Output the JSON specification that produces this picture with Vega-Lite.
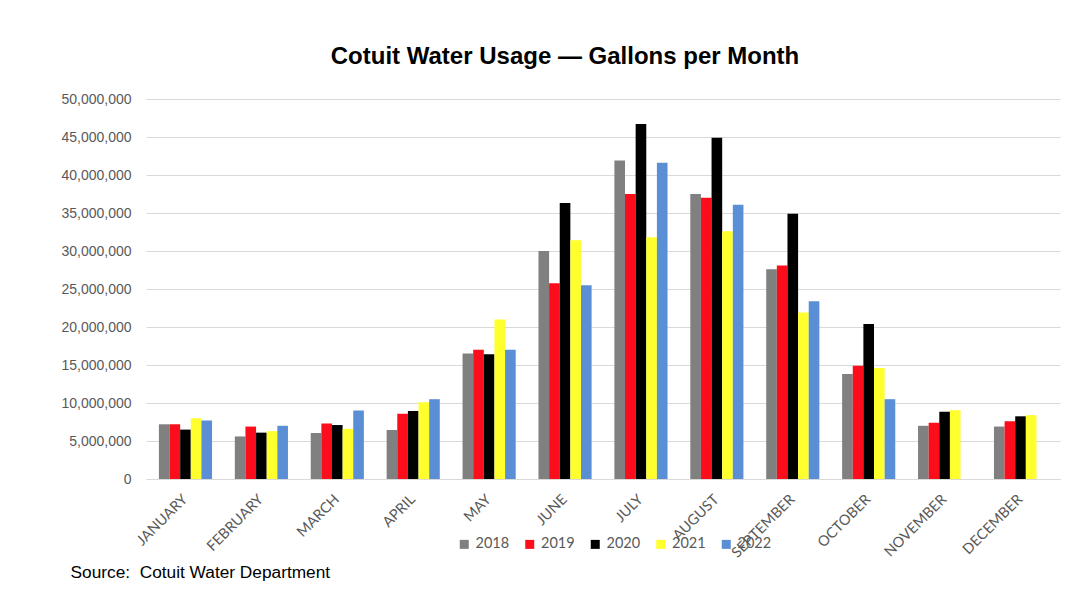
{
  "$schema": "https://vega.github.io/schema/vega-lite/v6.json",
  "autosize": {"type": "none"},
  "width": 914,
  "height": 380,
  "padding": {"left": 146, "top": 99, "right": 32, "bottom": 114},
  "background": "white",
  "title": {
    "text": "Cotuit Water Usage — Gallons per Month",
    "font": "Liberation Sans",
    "fontSize": 24,
    "fontWeight": "bold",
    "color": "#000000",
    "anchor": "middle",
    "baseline": "alphabetic",
    "offset": 4,
    "dx": -38
  },
  "data": {
    "values": [
      {"month": "JANUARY", "year": "2018", "gallons": 7200000},
      {"month": "JANUARY", "year": "2019", "gallons": 7200000},
      {"month": "JANUARY", "year": "2020", "gallons": 6500000},
      {"month": "JANUARY", "year": "2021", "gallons": 8000000},
      {"month": "JANUARY", "year": "2022", "gallons": 7700000},
      {"month": "FEBRUARY", "year": "2018", "gallons": 5600000},
      {"month": "FEBRUARY", "year": "2019", "gallons": 6900000},
      {"month": "FEBRUARY", "year": "2020", "gallons": 6100000},
      {"month": "FEBRUARY", "year": "2021", "gallons": 6300000},
      {"month": "FEBRUARY", "year": "2022", "gallons": 7000000},
      {"month": "MARCH", "year": "2018", "gallons": 6050000},
      {"month": "MARCH", "year": "2019", "gallons": 7300000},
      {"month": "MARCH", "year": "2020", "gallons": 7100000},
      {"month": "MARCH", "year": "2021", "gallons": 6600000},
      {"month": "MARCH", "year": "2022", "gallons": 9000000},
      {"month": "APRIL", "year": "2018", "gallons": 6450000},
      {"month": "APRIL", "year": "2019", "gallons": 8600000},
      {"month": "APRIL", "year": "2020", "gallons": 8950000},
      {"month": "APRIL", "year": "2021", "gallons": 10100000},
      {"month": "APRIL", "year": "2022", "gallons": 10500000},
      {"month": "MAY", "year": "2018", "gallons": 16500000},
      {"month": "MAY", "year": "2019", "gallons": 17000000},
      {"month": "MAY", "year": "2020", "gallons": 16400000},
      {"month": "MAY", "year": "2021", "gallons": 21000000},
      {"month": "MAY", "year": "2022", "gallons": 17000000},
      {"month": "JUNE", "year": "2018", "gallons": 30000000},
      {"month": "JUNE", "year": "2019", "gallons": 25750000},
      {"month": "JUNE", "year": "2020", "gallons": 36300000},
      {"month": "JUNE", "year": "2021", "gallons": 31400000},
      {"month": "JUNE", "year": "2022", "gallons": 25500000},
      {"month": "JULY", "year": "2018", "gallons": 41900000},
      {"month": "JULY", "year": "2019", "gallons": 37500000},
      {"month": "JULY", "year": "2020", "gallons": 46700000},
      {"month": "JULY", "year": "2021", "gallons": 31800000},
      {"month": "JULY", "year": "2022", "gallons": 41600000},
      {"month": "AUGUST", "year": "2018", "gallons": 37500000},
      {"month": "AUGUST", "year": "2019", "gallons": 37000000},
      {"month": "AUGUST", "year": "2020", "gallons": 44900000},
      {"month": "AUGUST", "year": "2021", "gallons": 32600000},
      {"month": "AUGUST", "year": "2022", "gallons": 36100000},
      {"month": "SEPTEMBER", "year": "2018", "gallons": 27600000},
      {"month": "SEPTEMBER", "year": "2019", "gallons": 28100000},
      {"month": "SEPTEMBER", "year": "2020", "gallons": 34900000},
      {"month": "SEPTEMBER", "year": "2021", "gallons": 21900000},
      {"month": "SEPTEMBER", "year": "2022", "gallons": 23400000},
      {"month": "OCTOBER", "year": "2018", "gallons": 13800000},
      {"month": "OCTOBER", "year": "2019", "gallons": 14900000},
      {"month": "OCTOBER", "year": "2020", "gallons": 20400000},
      {"month": "OCTOBER", "year": "2021", "gallons": 14600000},
      {"month": "OCTOBER", "year": "2022", "gallons": 10500000},
      {"month": "NOVEMBER", "year": "2018", "gallons": 7000000},
      {"month": "NOVEMBER", "year": "2019", "gallons": 7400000},
      {"month": "NOVEMBER", "year": "2020", "gallons": 8850000},
      {"month": "NOVEMBER", "year": "2021", "gallons": 9050000},
      {"month": "DECEMBER", "year": "2018", "gallons": 6900000},
      {"month": "DECEMBER", "year": "2019", "gallons": 7600000},
      {"month": "DECEMBER", "year": "2020", "gallons": 8250000},
      {"month": "DECEMBER", "year": "2021", "gallons": 8400000}
    ]
  },
  "mark": {"type": "bar"},
  "encoding": {
    "x": {
      "field": "month",
      "type": "nominal",
      "sort": ["JANUARY", "FEBRUARY", "MARCH", "APRIL", "MAY", "JUNE", "JULY", "AUGUST", "SEPTEMBER", "OCTOBER", "NOVEMBER", "DECEMBER"],
      "scale": {"paddingInner": 0.3, "paddingOuter": 0.17},
      "axis": {
        "title": "Source:\u00a0 Cotuit Water Department",
        "titleFont": "Liberation Sans",
        "titleFontSize": 17.3,
        "titleFontWeight": "normal",
        "titleColor": "#000000",
        "titleX": -76,
        "titleY": 98,
        "titleAlign": "left",
        "titleBaseline": "alphabetic",
        "titleAngle": 0,
        "labelAngle": -45,
        "labelAlign": "right",
        "labelBaseline": "middle",
        "labelFont": "Lato",
        "labelFontSize": 14.5,
        "labelColor": "#595959",
        "labelPadding": 18,
        "labelDx": 3,
        "ticks": false,
        "tickSize": 0,
        "domainColor": "#d9d9d9",
        "domainWidth": 1,
        "grid": false
      }
    },
    "xOffset": {"field": "year", "type": "nominal", "sort": ["2018", "2019", "2020", "2021", "2022"]},
    "y": {
      "field": "gallons",
      "type": "quantitative",
      "scale": {"domain": [0, 50000000], "nice": false},
      "axis": {
        "title": null,
        "values": [0, 5000000, 10000000, 15000000, 20000000, 25000000, 30000000, 35000000, 40000000, 45000000, 50000000],
        "format": ",d",
        "labelFont": "Liberation Sans",
        "labelFontSize": 14,
        "labelColor": "#595959",
        "labelPadding": 15,
        "ticks": false,
        "tickSize": 0,
        "domain": false,
        "grid": true,
        "gridColor": "#d9d9d9",
        "gridWidth": 1
      }
    },
    "color": {
      "field": "year",
      "type": "nominal",
      "scale": {
        "domain": ["2018", "2019", "2020", "2021", "2022"],
        "range": ["#808080", "#fb0d1b", "#000000", "#ffff2e", "#5b8fd5"]
      },
      "legend": {
        "title": null,
        "orient": "none",
        "direction": "horizontal",
        "legendX": 311,
        "legendY": 438,
        "padding": 0,
        "symbolType": "square",
        "symbolSize": 81,
        "symbolStrokeWidth": 0,
        "labelFont": "Lato",
        "labelFontSize": 14.5,
        "labelColor": "#595959",
        "labelOffset": 4,
        "columnPadding": 12.5
      }
    }
  },
  "config": {
    "view": {"stroke": null}
  }
}
